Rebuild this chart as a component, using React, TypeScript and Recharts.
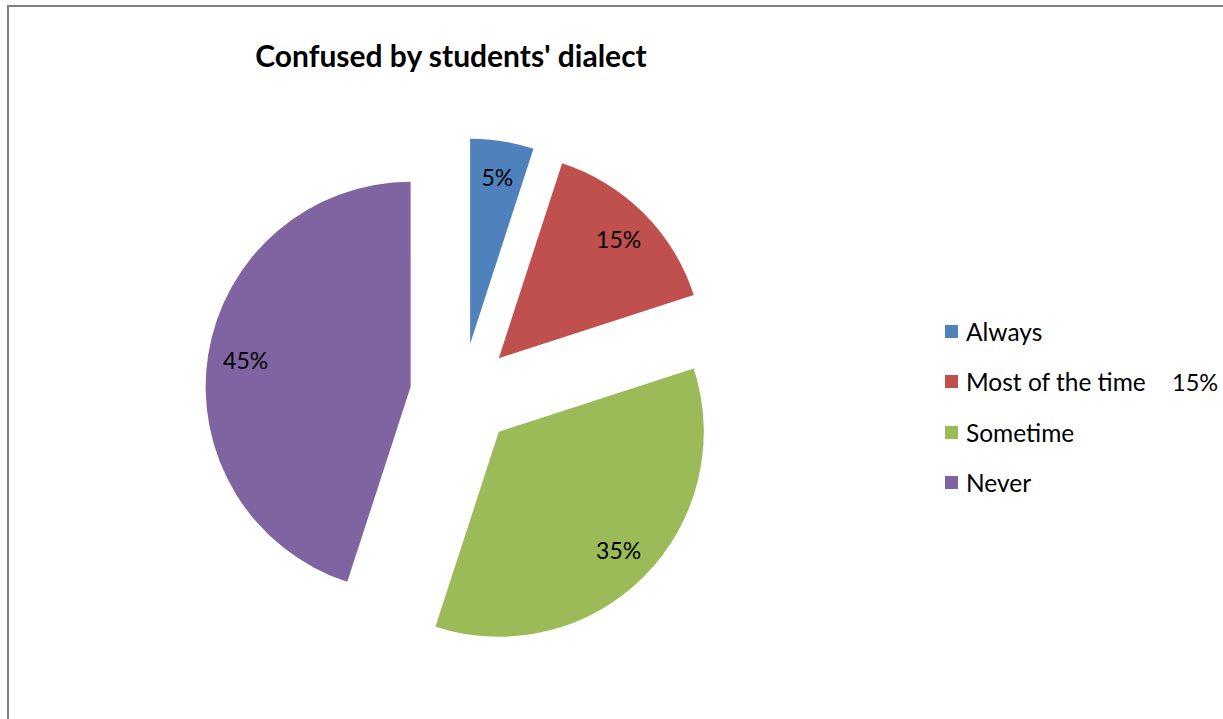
import React from "react";
import { PieChart, Pie, Cell, Sector, Legend, Tooltip } from "recharts";

const title = "Confused by students' dialect";
const categories = ["Always", "Most of the time", "Sometime", "Never"];
const values = [5, 15, 35, 45];
const colors = ["#4F81BD", "#C0504D", "#9BBB59", "#8064A2"];
const legendNotes = ["", "15%", "", ""];

const data = categories.map((name, i) => ({ name, value: values[i], note: legendNotes[i] }));

const EXPLODE = 52;
const RAD = Math.PI / 180;
const FONT = "Lato, 'Open Sans', sans-serif";

const ExplodedSector = (props: any) => {
  const { cx, cy, midAngle, innerRadius, outerRadius, startAngle, endAngle, fill } = props;
  const dx = EXPLODE * Math.cos(-midAngle * RAD);
  const dy = EXPLODE * Math.sin(-midAngle * RAD);
  return (
    <Sector
      cx={cx + dx}
      cy={cy + dy}
      innerRadius={innerRadius}
      outerRadius={outerRadius}
      startAngle={startAngle}
      endAngle={endAngle}
      fill={fill}
      stroke="none"
    />
  );
};

const renderLabel = (props: any) => {
  const { cx, cy, midAngle, outerRadius, value } = props;
  const r = EXPLODE + 0.82 * outerRadius;
  const x = cx + r * Math.cos(-midAngle * RAD);
  const y = cy + r * Math.sin(-midAngle * RAD);
  return (
    <text
      x={x + 1}
      y={y}
      dy="0.36em"
      textAnchor="middle"
      fill="#000"
      style={{ fontFamily: FONT, fontSize: 23 }}
    >
      {`${value}%`}
    </text>
  );
};

const renderLegend = (props: any) => {
  const { payload } = props;
  return (
    <div style={{ fontFamily: FONT, fontSize: 24.5, color: "#000" }}>
      {(payload || []).map((entry: any, i: number) => (
        <div
          key={i}
          style={{ position: "relative", height: 50.5, display: "flex", alignItems: "center", whiteSpace: "nowrap" }}
        >
          <span style={{ display: "inline-block", width: 13, height: 13, background: entry.color, marginRight: 8 }} />
          <span>{entry.value}</span>
          {entry.payload && entry.payload.note ? (
            <span style={{ position: "absolute", left: 227, fontSize: 23.5 }}>{entry.payload.note}</span>
          ) : null}
        </div>
      ))}
    </div>
  );
};

export default function App() {
  return (
    <div
      style={{
        position: "absolute",
        left: 7,
        top: 5,
        width: 1216,
        height: 714,
        borderLeft: "2px solid #808080",
        borderTop: "2px solid #808080",
        background: "#fff",
        overflow: "hidden",
      }}
    >
      <div
        style={{
          position: "absolute",
          left: 142,
          top: 30,
          width: 600,
          textAlign: "center",
          fontFamily: FONT,
          fontWeight: 700,
          fontSize: 30,
          lineHeight: "36px",
          color: "#000",
        }}
      >
        {title}
      </div>
      <PieChart width={1214} height={712} margin={{ top: 0, right: 0, bottom: 0, left: 0 }}>
        <Pie
          data={data}
          dataKey="value"
          nameKey="name"
          cx={453}
          cy={388}
          outerRadius={205}
          startAngle={90}
          endAngle={-270}
          stroke="none"
          isAnimationActive={false}
          labelLine={false}
          label={renderLabel}
          shape={ExplodedSector}
          activeShape={ExplodedSector}
          inactiveShape={ExplodedSector}
        >
          {data.map((d, i) => (
            <Cell key={d.name} fill={colors[i]} />
          ))}
        </Pie>
        <Tooltip defaultIndex={0} content={() => null} cursor={false} />
        <Legend
          layout="vertical"
          align="right"
          verticalAlign="top"
          itemSorter={(item: any) => categories.indexOf(item.value)}
          content={renderLegend}
          wrapperStyle={{ left: 936, top: 299, width: 275, right: "auto" }}
        />
      </PieChart>
    </div>
  );
}
